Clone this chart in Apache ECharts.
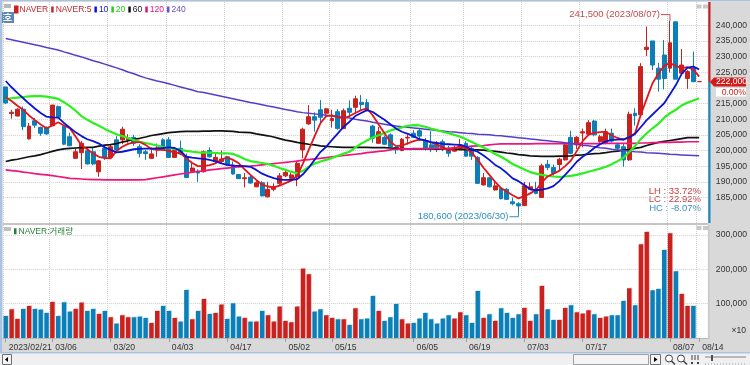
<!DOCTYPE html>
<html><head><meta charset="utf-8">
<script src="https://cdn.jsdelivr.net/npm/echarts@6/dist/echarts.min.js"></script>
<style>html,body{margin:0;padding:0;background:#f0f0f0}#c{width:750px;height:365px}</style>
</head><body><div id="c"></div>
<script>
const dates=['2023/02/21','02/22','02/23','02/24','02/27','02/28','03/02','03/03','03/06','03/07','03/08','03/09','03/10','03/13','03/14','03/15','03/16','03/17','03/20','03/21','03/22','03/23','03/24','03/27','03/28','03/29','03/30','03/31','04/03','04/04','04/05','04/06','04/07','04/10','04/11','04/12','04/13','04/14','04/17','04/18','04/19','04/20','04/21','04/24','04/25','04/26','04/27','04/28','05/02','05/03','05/04','05/08','05/09','05/10','05/11','05/12','05/15','05/16','05/17','05/18','05/19','05/22','05/23','05/24','05/25','05/26','05/30','05/31','06/01','06/02','06/05','06/07','06/08','06/09','06/12','06/13','06/14','06/15','06/16','06/19','06/20','06/21','06/22','06/23','06/26','06/27','06/28','06/29','06/30','07/03','07/04','07/05','07/06','07/07','07/10','07/11','07/12','07/13','07/14','07/17','07/18','07/19','07/20','07/21','07/24','07/25','07/26','07/27','07/28','07/31','08/01','08/02','08/03','08/04','08/07','08/08','08/09','08/10','08/11','08/14',''];
const tickDates=['2023/02/21','03/06','03/20','04/03','04/17','05/02','05/15','06/05','06/19','07/03','07/17','08/07','08/14'];
const priceTicks=[185,190,195,200,205,210,215,220,225,230,235,240];
const priceLabelTicks=[185,190,195,200,205,210,215,225,230,235,240];
const volumeTicks=[100,200,300];
const opens=[220.3,211.8,211.0,213.2,203.7,209.5,207.4,207.2,207.9,214.0,207.8,204.4,197.5,199.3,199.9,199.6,193.2,200.7,197.8,203.4,203.4,203.4,204.2,201.2,199.6,197.5,200.3,203.4,203.4,197.8,200.7,198.0,193.2,193.4,193.2,200.0,196.5,196.5,198.0,195.4,192.3,191.0,191.5,188.4,189.7,185.2,187.6,189.5,191.9,191.1,191.6,200.2,208.5,210.8,213.0,211.9,209.5,212.4,207.0,213.5,213.8,215.4,215.3,207.8,202.3,204.2,205.0,201.0,200.0,204.0,205.5,206.3,203.1,201.8,201.8,202.8,200.7,199.8,200.5,202.3,200.7,197.8,189.0,191.3,187.4,187.9,187.6,183.6,183.0,182.4,187.6,187.6,185.0,195.6,194.6,195.5,197.0,204.2,201.8,205.6,205.2,209.4,202.8,202.3,205.5,201.8,201.2,197.0,211.9,211.4,232.3,235.0,226.3,230.5,226.3,241.1,224.7,223.0,226.3,222.0];
const closes=[215.2,212.2,213.2,207.6,207.8,208.1,205.5,205.3,214.5,210.6,202.0,201.5,199.6,202.3,195.7,195.7,196.7,197.8,201.2,200.2,206.8,204.0,202.3,199.1,199.0,198.9,200.8,200.2,197.8,200.2,198.9,191.4,194.4,192.8,199.6,198.0,197.8,197.3,195.4,192.5,191.0,191.3,189.6,189.7,185.5,187.6,188.4,191.9,193.0,192.2,195.9,206.8,210.8,209.7,210.6,213.3,210.2,207.0,212.7,212.2,216.5,214.7,213.1,203.9,206.0,202.0,201.2,200.2,203.6,204.2,204.2,204.6,200.7,200.7,201.0,200.7,199.1,200.8,201.8,198.2,198.2,189.5,191.3,188.4,188.7,184.6,184.4,183.0,182.3,188.7,188.4,186.3,195.1,194.6,192.7,197.2,201.8,199.1,204.2,206.0,208.9,205.0,204.4,206.0,203.0,200.7,197.0,211.6,211.1,226.8,233.0,227.3,222.8,223.0,234.4,222.8,227.3,225.2,222.0,222.0];
const lows=[214.8,210.2,211.0,206.5,203.5,207.2,204.7,205.0,207.8,210.4,201.7,201.4,197.4,194.1,195.5,195.3,191.6,197.0,197.5,200.0,202.0,202.5,201.5,197.8,197.0,197.4,198.0,200.0,197.6,197.7,198.5,191.2,193.0,190.0,193.0,197.7,196.0,196.0,195.2,192.2,190.9,188.2,189.4,188.3,185.4,185.0,187.0,189.0,191.5,190.0,188.6,197.5,208.2,206.0,208.7,210.5,207.3,206.7,206.8,211.0,211.6,213.0,212.5,202.5,202.1,201.8,201.0,198.9,199.8,201.9,204.0,203.0,200.0,199.5,199.5,199.8,198.0,199.6,200.3,198.0,197.0,189.3,188.8,188.2,187.2,184.4,184.2,182.5,180.6,182.3,187.5,186.0,185.0,193.7,192.0,193.7,196.8,198.8,200.5,201.0,205.0,204.5,202.5,202.0,202.5,199.8,194.8,196.7,208.0,211.0,230.2,225.7,218.8,219.5,224.9,222.8,224.2,219.7,221.8,222.0];
const highs=[220.3,213.0,213.5,214.0,208.8,210.4,207.6,207.7,214.6,214.4,208.0,205.7,201.0,203.0,201.0,201.0,197.0,201.4,202.0,204.6,207.6,205.2,205.0,202.0,200.2,201.0,202.2,203.9,204.3,201.0,203.2,199.0,196.0,194.0,200.0,201.0,199.5,200.0,198.3,196.5,192.5,192.8,192.0,190.2,190.2,190.0,189.5,192.8,194.0,193.0,196.8,207.3,214.5,212.2,216.1,213.6,213.0,213.2,213.4,216.0,217.5,217.7,216.5,208.2,207.5,204.8,205.5,201.3,204.0,205.0,206.5,207.0,204.0,206.2,203.0,203.5,201.5,201.5,203.7,203.0,201.5,198.2,192.8,191.5,190.5,188.0,188.0,185.0,183.5,190.0,189.8,190.0,195.8,197.0,195.5,197.7,202.2,206.3,204.6,207.0,209.7,209.8,205.0,207.0,207.0,202.5,202.2,212.4,213.5,227.9,239.6,235.0,228.0,235.3,241.5,241.2,232.4,225.7,231.6,222.0];
const volumes=[64,83.6,55.4,84.6,93.3,84.6,82.6,72.9,105,64,104,76.8,84.6,103,78.7,84.6,70,78.7,60.3,41.8,66.1,60.3,60.3,62.2,58.3,43.7,78.7,93.3,78.7,58.3,47.6,140,54.4,78.7,113.7,70,72.9,97.2,55.4,101,62.2,58.3,47.6,47.6,78.7,66.1,47.6,91.4,49.6,45.7,91.4,202,185.7,76.8,83.6,66.1,58.3,54.4,54.4,37.9,86.5,54.4,56.4,122.5,78.7,49.6,60.3,99.1,54.4,41.8,43.7,56.4,72.9,54.4,41.8,56.4,66.1,56.4,74.8,66.1,43.7,137,58.3,69,49.6,86.5,72.9,58.3,69,87.5,49.6,69,151.6,83.6,52.5,52.5,87.5,95.3,74.8,71,80.7,69,58.3,62.2,66.1,66.1,107.9,144.8,95.3,273,309,139,142.9,256.6,305,194.4,128.3,93.3,93.3,0];
const ma5=[216.9,215.8,214.3,213,211.2,209.7,208.3,207.1,208,209,208,207.1,204.5,201.6,200.4,199,198,197.6,197.5,199.8,201.2,202.1,202.6,202.7,201.8,200.5,200.2,200.2,199.9,199.4,199.1,197.5,196,195,195,195.3,195.9,197,197.8,197,195.9,194,192.2,190.6,189.1,188.5,188.2,188.8,189.6,190.4,191.8,195.8,200.2,204.5,208.7,211,211.2,210.7,210.3,211,212,212.9,213.5,211.2,208.3,205.5,202.8,201.4,201.6,202.3,203,203.5,203.2,202.6,201.9,201,200,200.6,201.3,200.6,199.3,197,194.5,192.2,190,188,186.8,185.7,184.7,185.4,186.3,187.4,189.8,191.7,192.6,193.5,195,196.8,199.8,203,205,205.6,205.9,206,204.8,204,203.4,204.3,205.5,211.5,216.5,221.5,224.5,227.1,227.9,227,226.3,226.6,225.9,223.6];
const ma10=[222.2,220.2,218.4,216.7,215,213.4,212,210.8,210.6,210.5,208.8,207.3,205.8,204.6,203.6,203,202.2,201,200.2,199.4,199.6,200,200.4,200.5,200.6,200.6,200.7,200.8,201,200.8,199.9,198,197.7,197.5,197.3,197,196.5,195.9,195.4,195.2,195.1,195,194.8,193.8,192.6,191.8,191.2,190.7,190.6,190.6,190.8,192.4,194.5,197,199.5,201.2,203.4,205.5,207.6,209.2,211,212,212.9,212.3,211,209.8,208.4,207,206,205.3,204.6,203.6,203.2,202.7,202.4,202.1,202,201.9,201.8,201.2,200.3,199.6,198.4,197,195.4,194.3,192.8,191.1,190.2,189,187.6,187.3,187.5,187.9,188.6,190.2,192.2,194.2,196.4,198,199.3,200.8,202,202.9,203.4,203.5,203.6,204.2,205.3,207.5,209.7,211.5,213.3,215.1,218,220.9,224.5,226.5,226.8,225.9];
const ma20=[216.5,216.7,216.9,217.1,217.3,217.4,217.4,217.2,216.9,216.5,215.4,214.2,212.7,211,209.8,208.8,207.9,206.9,206,205.2,204.6,204,203.3,202.8,202.4,202,201.6,201.1,200.8,200.5,200.2,199.9,199.6,199.4,199.3,199.3,199.2,199.1,199.1,198.9,198.2,197.3,196.6,196.3,196,195.7,195.1,194.4,193.8,193.2,192.7,193.5,194.8,195.8,196.5,197,197.6,198.3,199,199.6,200.9,202.2,203.2,204.2,204.9,205.6,206.4,206.9,207.4,207.9,208.1,208,207.6,207,206.5,206,205.5,205,204.4,203.6,202.7,201.8,201,200,198.9,198,196.9,195.7,194.8,193.9,193.1,192.6,192.2,191.9,191.7,191.6,191.7,191.9,192.2,192.7,193.2,193.7,194.2,194.8,195.6,196.6,197.7,199.5,201.4,203.7,205.5,207.1,208.5,210.5,211.9,213,214.4,215.3,216,216.7];
const ma60=[196.5,196.9,197.2,197.6,198,198.3,198.7,199.2,199.7,200.2,200.5,200.7,200.8,200.9,201,201,201.4,201.7,201.9,202.2,202.7,203.1,203.6,203.9,204.3,204.8,205.1,205.4,205.7,205.9,206,206.1,206.1,206.1,206.2,206.2,206.3,206.3,206.2,206.1,205.9,205.8,205.7,205.3,205,204.7,204.3,203.8,203.3,203,202.6,202.3,202,201.8,201.5,201.3,201.2,201.1,201,201,201,201,201,200.9,200.9,200.9,200.8,200.7,200.6,200.5,200.5,200.5,200.5,200.5,200.4,200.5,200.5,200.4,200.3,200.3,200.2,200.2,200.1,199.9,199.7,199.5,199.2,199,198.7,198.5,198.3,198.2,198.1,198.1,198.1,198.2,198.2,198.3,198.5,198.6,198.8,199,199.1,199.3,199.6,199.8,200.1,200.3,200.7,201,201.6,202.1,202.6,202.9,203.2,203.5,203.8,204.1,204.1,204.1];
const ma120=[193.8,193.6,193.4,193.1,192.9,192.6,192.4,192.2,192,191.7,191.4,191.1,191,190.9,190.8,190.7,190.7,190.6,190.6,190.6,190.6,190.6,190.6,190.6,190.7,191,191.3,191.6,191.9,192.2,192.5,192.8,193.1,193.3,193.5,193.8,194,194.2,194.4,194.6,194.8,194.9,195,195.2,195.4,195.6,195.8,196,196.2,196.4,196.6,196.9,197.1,197.3,197.5,197.7,198,198.2,198.4,198.6,198.8,199,199.3,199.5,199.7,199.9,200.2,200.4,200.5,200.5,200.6,200.6,200.6,200.7,200.7,200.7,200.7,200.9,201.1,201.2,201.4,201.5,201.6,201.8,202,202.1,202.1,202.1,202.1,202.1,202.1,202.2,202.2,202.2,202.2,202.2,202.2,202.2,202.2,202.2,202.2,202.2,202.2,202.3,202.3,202.3,202.3,202.3,202.3,202.4,202.4,202.5,202.5,202.6,202.6,202.7,202.7,202.8,202.8,202.8];
const ma240=[235.8,235.4,235,234.6,234.2,233.8,233.4,232.9,232.5,232.1,231.5,231,230.4,229.9,229.3,228.7,228.2,227.6,227,226.4,225.8,225.1,224.5,223.8,223.2,222.7,222.2,221.8,221.3,220.8,220.3,219.8,219.3,218.8,218.5,218.1,217.7,217.3,216.9,216.5,216.1,215.7,215.3,215,214.6,214.2,213.9,213.5,213.1,212.8,212.4,212.1,211.9,211.7,211.5,211.3,211,210.8,210.6,210.4,210,209.7,209.4,209,208.7,208.4,208.1,207.8,207.6,207.4,207.2,207,206.8,206.6,206.4,206.2,206,205.9,205.7,205.5,205.4,205.2,205.1,205,204.8,204.7,204.5,204.3,204.1,203.9,203.7,203.5,203.3,203.1,202.9,202.7,202.5,202.2,202,201.7,201.5,201.2,200.9,200.7,200.4,200.2,200,199.8,199.6,199.5,199.3,199.2,199.1,199,198.8,198.7,198.6,198.5,198.4,198.3];
const highNote={index:114,value:241.5,text:'241,500 (2023/08/07)'};
const lowNote={index:88,value:180.6,text:'180,600 (2023/06/30)'};
const lastPrice=222;
const lastChange='0.00%';
const stats=[['LH : 33.72%','#c83c3c'],['LC : 22.92%','#c83c3c'],['HC : -8.07%','#3a92c4']];

const FONT='"Liberation Sans",sans-serif';
const KFONT='"Liberation Sans","Noto Sans CJK KR",sans-serif';
const RED='#c9211e',BLUE='#0b7fb8',GRID='#cfcfcf';
const fmt=v=>Math.round(v*1000).toLocaleString('en-US');
const isTick=(i,c)=>tickDates.includes(c);
const G=[{left:2.8,width:705.07,top:2,height:221,show:true,backgroundColor:'#fff',borderWidth:0},
         {left:2.8,width:705.07,top:225,height:113,show:true,backgroundColor:'#fff',borderWidth:0}];
const xAxis=[0,1].map(k=>({type:'category',gridIndex:k,data:dates,boundaryGap:true,
  axisLine:{show:k===1,lineStyle:{color:'#b8b8b8'}},
  axisTick:{show:k===1,alignWithLabel:true,interval:isTick,length:4,lineStyle:{color:'#a0a0a0'}},
  axisLabel:{show:k===1,interval:isTick,showMinLabel:true,align:'left',margin:5,padding:[0,0,0,3],color:'#333',fontFamily:FONT,fontSize:8.6,hideOverlap:false},
  splitLine:{show:true,interval:isTick,lineStyle:{color:GRID,type:'dotted',width:1}}}));
const yAxis=[
 {type:'value',gridIndex:0,position:'right',scale:true,min:176.84,max:247.44,
  axisLine:{show:false},axisTick:{show:false,customValues:priceTicks},
  axisLabel:{customValues:priceLabelTicks,formatter:fmt,color:'#333',fontFamily:FONT,fontSize:8.6,margin:8},
  splitLine:{show:true,lineStyle:{color:GRID,type:'dotted',width:1}}},
 {type:'value',gridIndex:1,position:'right',min:0,max:329.4,
  axisLine:{show:false},axisTick:{show:false,customValues:volumeTicks},
  axisLabel:{customValues:volumeTicks,formatter:fmt,color:'#333',fontFamily:FONT,fontSize:8.6,margin:8},
  splitLine:{show:true,lineStyle:{color:GRID,type:'dotted',width:1}}}];
const line=(name,data,color,w,z)=>({name,type:'line',data,xAxisIndex:0,yAxisIndex:0,showSymbol:false,symbol:'none',silent:true,z,
  lineStyle:{color,width:w},itemStyle:{color}});
const note=(n,color,dir)=>({type:'custom',xAxisIndex:0,yAxisIndex:0,silent:true,z:20,data:[[n.index,n.value]],
  renderItem:(p,api)=>{const c=api.coord([api.value(0),api.value(1)]);const ty=c[1]+dir*(dir<0?6:5.5);
    return {type:'group',children:[
     {type:'polyline',shape:{points:[[c[0]-9,ty],[c[0],ty],[c[0],c[1]]]},style:{stroke:color,fill:null,lineWidth:1}},
     {type:'text',style:{text:n.text,x:c[0]-10,y:ty,align:'right',verticalAlign:'middle',fill:color,font:'9.5px '+FONT}}]};}});
const tag={type:'custom',xAxisIndex:0,yAxisIndex:0,silent:true,z:30,data:[[119,lastPrice]],
  renderItem:(p,api)=>{const c=api.coord([api.value(0),api.value(1)]);const y=Math.round(c[1]);
    return {type:'group',children:[
     {type:'rect',shape:{x:708.3,y:2,width:2.2,height:y-2},style:{fill:'#c82020'}},
     {type:'rect',shape:{x:708.3,y:y,width:2.2,height:223-y},style:{fill:'#1f86bd'}},
     {type:'polygon',shape:{points:[[710,y],[714,y-4.5],[746,y-4.5],[746,y+4.5],[714,y+4.5]]},style:{fill:'#d01c1c'}},
     {type:'text',style:{text:fmt(api.value(1)),x:716,y:y,verticalAlign:'middle',fill:'#fff',font:'8.6px '+FONT}},
     {type:'rect',shape:{x:716,y:y+6,width:30,height:8.5},style:{fill:'#fff'}},
     {type:'text',style:{text:lastChange,x:746,y:y+10.5,align:'right',verticalAlign:'middle',fill:'#d01c1c',font:'8.6px '+FONT}}]};}};
const series=[
 {name:'NAVER',type:'candlestick',xAxisIndex:0,yAxisIndex:0,barWidth:4.4,silent:true,z:3,
  data:opens.map((o,i)=>[o,closes[i],lows[i],highs[i]]),
  itemStyle:{color:RED,color0:BLUE,borderColor:RED,borderColor0:BLUE,borderColorDoji:RED,borderWidth:1}},
 line('NAVER:5',ma5,'#e2141c',1.8,8),line('10',ma10,'#0a14d2',1.8,8),line('20',ma20,'#2cf01e',2.2,6),
 line('60',ma60,'#111111',1.7,5),line('120',ma120,'#f0147e',1.7,5),line('240',ma240,'#5a3ccc',1.5,5),
 {name:'NAVER:거래량',type:'bar',xAxisIndex:1,yAxisIndex:1,barWidth:4.4,silent:true,z:3,
  data:volumes.map((v,i)=>({value:v,itemStyle:{color:closes[i]>=opens[i]?RED:BLUE,shadowColor:closes[i]>=opens[i]?'#f4b0ae':'#a8d8ee',shadowOffsetX:0.8,shadowOffsetY:-0.6,shadowBlur:0}})),itemStyle:{color:'#2a7d3a'}},
 note(highNote,'#c84a4a',-1),note(lowNote,'#2f90c4',1),tag];
const leg=(n,c)=>({name:n,itemStyle:{color:c},textStyle:{color:c}});
const legend=[
 {left:14,top:5,padding:0,itemGap:3,itemWidth:2.5,itemHeight:6,icon:'rect',selectedMode:false,
  textStyle:{fontFamily:FONT,fontSize:8.5,padding:[0,0,0,-3]},
  data:[leg('NAVER','#c0282c'),leg('NAVER:5','#c0282c'),leg('10','#0a14d2'),leg('20','#2cc81e'),leg('60','#111'),leg('120','#e0147e'),leg('240','#6a50c8')]},
 {left:14,top:227,padding:0,itemWidth:2.5,itemHeight:6,icon:'rect',selectedMode:false,
  textStyle:{fontFamily:KFONT,fontSize:8.5,color:'#2a7d3a',padding:[0,0,0,-3]},
  data:[{name:'NAVER:거래량',itemStyle:{color:'#2a7d3a'},textStyle:{color:'#2a7d3a'}}]}];
const box=(x,y,w,h,fill,stroke)=>({type:'rect',shape:{x,y,width:w,height:h},style:{fill,stroke:stroke||null,lineWidth:1}});
const txt=(t,x,y,color,font,align)=>({type:'text',style:{text:t,x,y,fill:color,font,align:align||'left',verticalAlign:'middle'}});
const graphic={elements:[
 box(0,353,750,12,'#f0f0f0'),box(0,352,750,1.5,'#a8c4e2'),
 box(0,0,2,353,'#a8c4e2'),box(0,0,750,1,'#a8c4e2'),
 box(2.8,223,705,2,'#c4c4c4'),box(708,225,1.5,114,'#c4c4c4'),
 box(4,4,7,4,'#b8b8b8'),box(696.5,4.5,5,4,'#c8c8c8'),box(703,4.5,5,4,'#c8c8c8'),
 box(696.5,226,5,4,'#c8c8c8'),box(703,226,5,4,'#c8c8c8'),box(4,227,7,4,'#c0c0c0'),
 box(2,12,12,11,'#5b86b0'),txt('호',8,17.5,'#fff','bold 9px "Noto Sans CJK KR"','center'),
 txt('×10',746,331,'#333','8.6px '+FONT,'right'),
 txt(stats[0][0],701,191,stats[0][1],'9.5px '+FONT,'right'),
 txt(stats[1][0],701,199.5,stats[1][1],'9.5px '+FONT,'right'),
 txt(stats[2][0],701,208,stats[2][1],'9.5px '+FONT,'right'),
 box(2.5,354.5,9,10,'#f4f4f4','#707070'),{type:'polygon',shape:{points:[[5,359.5],[8,357],[8,362]]},style:{fill:'#000'}},
 box(573.5,354.5,75,10,'#f4f4f4','#a0a0a0'),box(650.5,354.5,10,10,'#f4f4f4','#707070'),{type:'polygon',shape:{points:[[657.5,359.5],[654,357],[654,362]]},style:{fill:'#000'}},
 {type:'circle',shape:{cx:669,cy:358.5,r:3.5},style:{fill:'#fff',stroke:'#404040',lineWidth:1}},{type:'line',shape:{x1:671.5,y1:361,x2:675,y2:364.5},style:{stroke:'#404040',lineWidth:1.5}},
 {type:'circle',shape:{cx:681,cy:358.5,r:3.5},style:{fill:'#fff',stroke:'#404040',lineWidth:1}},{type:'line',shape:{x1:683.5,y1:361,x2:687,y2:364.5},style:{stroke:'#404040',lineWidth:1.5}},
 {type:'line',shape:{x1:692,y1:355,x2:692,y2:360},style:{stroke:'#404040',lineWidth:1}},{type:'line',shape:{x1:695,y1:355,x2:695,y2:360},style:{stroke:'#404040',lineWidth:1}},{type:'line',shape:{x1:698,y1:355,x2:698,y2:360},style:{stroke:'#404040',lineWidth:1}},
 box(691,362,2,2,'#404040'),box(697,362,2,2,'#404040'),
 {type:'line',shape:{x1:705,y1:357,x2:746,y2:357},style:{stroke:'#808080',lineWidth:1}},box(711,355,2,6,'#505050'),
 {type:'line',shape:{x1:705,y1:364,x2:746,y2:364},style:{stroke:'#a0a0a0',lineWidth:1,lineDash:[1,2]}}
]};
const chart=echarts.init(document.getElementById('c'),null,{renderer:'canvas'});
chart.setOption({animation:false,backgroundColor:'#d9d9d9',tooltip:{show:false},grid:G,xAxis,yAxis,series,legend,graphic});
</script></body></html>
